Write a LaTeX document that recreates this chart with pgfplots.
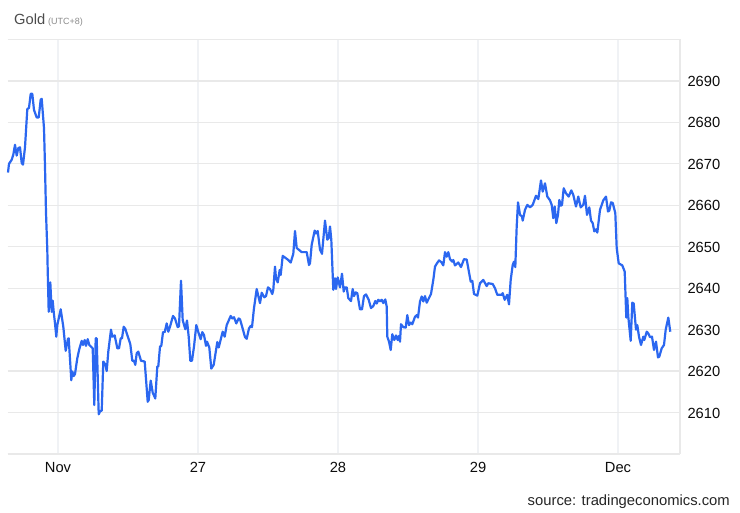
\documentclass[border=0pt]{standalone}
\usepackage{pgfplots}
\pgfplotsset{compat=1.18}
\usepackage{pgfplotstable}
\usepackage{fontspec}
\setmainfont{Liberation Sans}
\definecolor{goldline}{HTML}{2B67F0}
\definecolor{gridh}{HTML}{E9E9E9}
\definecolor{gridv}{HTML}{F0F2F5}
\pgfplotstableread{
x y
8 2667.9
9 2670
11.7 2671
13.3 2672.2
15 2674.6
16.7 2672
18.3 2673.8
20 2674
21.7 2670.2
23 2669.8
25 2674
27.3 2683.2
29 2683.5
30.7 2686.9
32.3 2686.9
34 2683
36.7 2681.2
38.7 2681.2
40.7 2685.5
41.7 2685.7
44 2678.6
45 2669.4
46 2658.2
47.3 2649.3
47.7 2644.4
48.7 2634.3
50.3 2641.4
51.7 2634.3
52.7 2637
53.7 2634.3
55 2631.5
56.3 2628.3
57.3 2631.1
60.7 2634.9
63.3 2630.7
65.7 2624.9
68 2627.8
68.7 2627.9
71.3 2617.8
72.3 2619.9
73.7 2618.8
75 2619.3
77.3 2623.1
79.3 2625.3
81.7 2627.3
83 2626.3
84.7 2627.5
86 2626.1
87.7 2627.7
89.3 2626.3
92.7 2625.5
94.3 2611.8
95.7 2627.9
96.7 2627.9
98.7 2609.6
100.3 2610.4
101.7 2610.4
103.3 2622.3
105.3 2621.6
106.7 2620
108.3 2624.7
111 2630
112.3 2628.3
114.7 2628.6
117.3 2625.5
119 2625.5
120.7 2627.9
122 2627.9
123.7 2630.7
125.3 2630.2
127.3 2628.7
130.3 2626.5
132.3 2622.5
134 2622.5
135.3 2621.5
136.7 2624.3
138.3 2624.7
141 2622.5
144.7 2622.3
147.7 2612.6
148.7 2613
150.7 2617.7
152.7 2614.8
155.3 2613.4
157.3 2621.1
158.3 2621.1
160 2625.9
161.3 2626.1
163 2629.4
164.7 2629.4
166.7 2631.5
168.3 2629.5
170 2630.7
173 2633.3
175 2632.7
177.7 2630.6
179 2630.8
181 2641.8
182.7 2632.3
185.3 2630.1
187 2632.2
188.7 2628.3
190.3 2622.5
192 2622.5
194 2625.9
196.3 2631.1
198.7 2629.1
200.7 2627.7
202.3 2629.4
204 2628.7
206 2626.1
207 2627.1
209.3 2625.7
211.3 2620.6
213.7 2621.5
217.3 2627
218.7 2625.7
222.7 2629.5
224.7 2628.3
226.7 2631.1
230.7 2633.3
232.3 2632.7
234 2633
236.3 2631.5
238.7 2632.7
240 2632.5
241.7 2631.1
245 2628.2
246.7 2627.8
249 2630.3
250.7 2630.9
252 2630.6
254 2635.2
256.7 2639.8
260 2636.4
261.7 2638.9
264.3 2637.8
266 2638.1
268 2640.2
270 2639.8
272.3 2638.6
273.3 2639.6
275 2645.2
276 2642.4
277.7 2641.4
279.7 2644.4
280.7 2643.2
282.7 2647.8
288.3 2646.8
290.7 2646.2
293.3 2648.3
295 2653.8
296.7 2649.7
301.7 2648.7
306.7 2648.7
309 2645.6
310 2646
311.7 2650.5
314.7 2653.9
316 2653.2
317.7 2653.8
320 2649.3
322 2648.3
325 2656.3
327.3 2651.7
328.7 2652.1
330 2654.9
331.3 2651.7
333.3 2639.6
335 2642.4
336 2639.8
337.7 2642.6
340 2640.2
342 2643.5
343.7 2639.2
345 2640.2
346.7 2640.2
348.3 2637.6
351 2636.9
352.7 2639.8
354 2638.1
355.7 2639
357.3 2638.8
360 2634.9
362 2634.9
364 2638.1
366 2638.5
368.7 2637.2
371 2635.2
373.3 2635.7
375.3 2636.9
376.7 2636.3
378.3 2637.2
380 2636.8
381.7 2637.2
383.3 2636.4
385.3 2637.3
386.7 2635.6
387.3 2628.3
389 2627.1
390.7 2625.1
392.3 2628.9
394.3 2627.5
396 2628.6
397.7 2627.5
399 2628.5
400 2627.1
401 2631.3
403.3 2630.6
405.7 2630.5
407.3 2633.5
409 2631.1
410.7 2631.7
412.3 2631.3
415 2633.1
416.7 2633.5
418 2632.9
420 2636.8
421.7 2638
423.3 2636.8
425 2638.1
426.7 2636.5
428.3 2637.3
431 2638.6
433.3 2642
435 2645.2
436.7 2645.9
439 2646.7
441.3 2646.3
443.3 2645.5
445 2648.7
446.7 2647.6
448.3 2648.7
450 2647
452.3 2646.4
453.3 2646.8
455 2645.5
458.3 2646.2
461 2645.1
464 2647
466.7 2646.9
470.7 2641.6
472.3 2641.8
474 2638.6
477.3 2638.2
480 2641.2
483.3 2642
486.7 2640.5
488.3 2641.2
492.7 2641
495 2640
497.3 2638.4
501.7 2638.4
502.7 2638.8
504.7 2637.2
507.3 2638.4
509 2636.1
510.7 2642
512.7 2645.6
514 2646.4
515.3 2645.1
516.7 2654.9
518 2660.7
520 2657.7
522 2657.3
522.7 2656.3
525 2658.9
527.3 2660.1
530 2659.5
532.7 2660.1
536 2662.3
538.3 2661.5
541 2666
542.7 2663.3
545 2665.3
547.3 2662.1
550 2661.2
551.7 2660.1
553.3 2656.9
554.7 2659.7
556.3 2655.7
558 2657.7
559.3 2661.3
560.7 2659.9
562 2660.1
563.7 2664.1
566 2662.9
568.7 2662.1
571.3 2663.6
573.3 2662.5
576 2659.7
578.3 2662.1
580.7 2659.5
583.3 2660.1
585 2662.3
587 2657.7
589.3 2659.5
591 2656.3
592.7 2655.7
594.3 2653.7
596 2654.2
597.3 2653.4
600 2658.9
603.3 2661.2
606 2662.1
608 2658.5
609.3 2658.7
611 2660.7
612.7 2660.6
615.3 2658.1
616.7 2649.7
618.7 2646
622.3 2645.5
624.7 2644
626.3 2632.9
627.3 2637.6
628.3 2633.1
630.7 2627.3
632.3 2636.5
633.7 2636.3
636 2630
637.3 2631.1
639 2628.3
641 2626.3
643.3 2628.3
644.3 2627.5
646.7 2629.5
648.3 2629.1
650 2628.2
652 2628.3
654 2625.1
656 2627.1
658 2623.3
659.3 2623.5
661.7 2625.5
664 2626.3
665.7 2630
668.3 2632.9
670.3 2629.5
}\golddata
\begin{document}
\begin{tikzpicture}[x=1pt,y=1pt]
\path[use as bounding box,fill=white] (0,0) rectangle (740,513);
\begin{axis}[
  at={(8pt,59pt)}, anchor=south west,
  scale only axis, width=672pt, height=414.5pt,
  xmin=8, xmax=680, ymin=2600, ymax=2700,
  axis y line*=right, axis x line*=bottom,
  axis line style={draw=gridh,line width=1.2pt,-},
  xtick={58,198,338,478,618},
  xticklabels={Nov,27,28,29,Dec},
  ytick={2600,2610,2620,2630,2640,2650,2660,2670,2680,2690,2700},
  yticklabels={,2610,2620,2630,2640,2650,2660,2670,2680,2690,},
  tick style={draw=none},
  major tick length=0pt,
  xmajorgrids, ymajorgrids,
  x grid style={draw=gridv,line width=1.2pt},
  y grid style={draw=gridh,line width=1.2pt},
  tick label style={font=\fontsize{14.7}{16}\selectfont,text=black!95},
  xticklabel style={yshift=-5pt},
  yticklabel style={xshift=4pt,yshift=-0.5pt},
  /pgf/number format/assume math mode=true,
  clip=false,
]
\addplot[color=goldline,line width=2.2pt,line join=round,no markers] table[x=x,y=y] {\golddata};
\end{axis}
\node[anchor=base west,font=\fontsize{14.7}{16}\selectfont,text=black!70,inner sep=0pt] at (14,488) {Gold};
\node[anchor=base west,font=\fontsize{9}{10}\selectfont,text=black!45,inner sep=0pt] at (48,488) {(UTC+8)};
\node[anchor=base east,font=\fontsize{14.8}{16}\selectfont,text=black!85,inner sep=0pt] at (730,7) {source: tradingeconomics.com};
\end{tikzpicture}
\end{document}
